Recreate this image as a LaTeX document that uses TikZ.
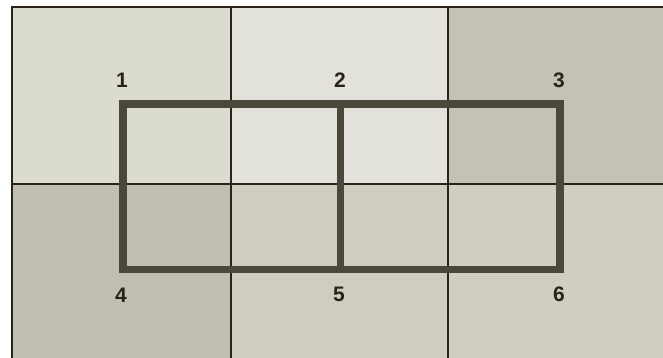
\documentclass[tikz,border=0pt]{standalone}
\usepackage{fontspec}
\setmainfont{Liberation Sans}
\definecolor{cA}{HTML}{DCDBD0}
\definecolor{cB}{HTML}{E2E2DA}
\definecolor{cC}{HTML}{C4C2B5}
\definecolor{cD}{HTML}{C1BFB2}
\definecolor{cE}{HTML}{CFCDC1}
\definecolor{cF}{HTML}{D0CEC2}
\definecolor{gridc}{HTML}{2B2319}
\definecolor{thickc}{HTML}{4A473B}
\begin{document}
\begin{tikzpicture}[x=1pt,y=-1pt,
  gridline/.style={draw=gridc,line width=2.2pt},
  window/.style={draw=thickc,line width=7.5pt,line join=miter},
  lbl/.style={font=\fontsize{21}{21}\selectfont\bfseries,text=gridc,inner sep=0pt}]
\useasboundingbox (0,0) rectangle (663,358);
\fill[white] (0,0) rectangle (663,358);
\fill[cA] (12,7) rectangle (231,184);
\fill[cB] (231,7) rectangle (448,184);
\fill[cC] (448,7) rectangle (663,184);
\fill[cD] (12,184) rectangle (231,358);
\fill[cE] (231,184) rectangle (448,358);
\fill[cF] (448,184) rectangle (663,358);
\draw[gridline] (12,358) -- (12,7) -- (663,7);
\draw[gridline] (12,184) -- (663,184);
\draw[gridline] (231,7) -- (231,358);
\draw[gridline] (448,7) -- (448,358);
\draw[window] (123,104) rectangle (560,269.5);
\draw[window] (340.5,104) -- (340.5,269.5);
\node[lbl] (n1) at (122,80) {1};
\node[lbl] (n2) at (340,80) {2};
\node[lbl] (n3) at (559,80) {3};
\node[lbl] (n4) at (121,295) {4};
\node[lbl] (n5) at (339,294) {5};
\node[lbl] (n6) at (559,294) {6};
\end{tikzpicture}
\end{document}
